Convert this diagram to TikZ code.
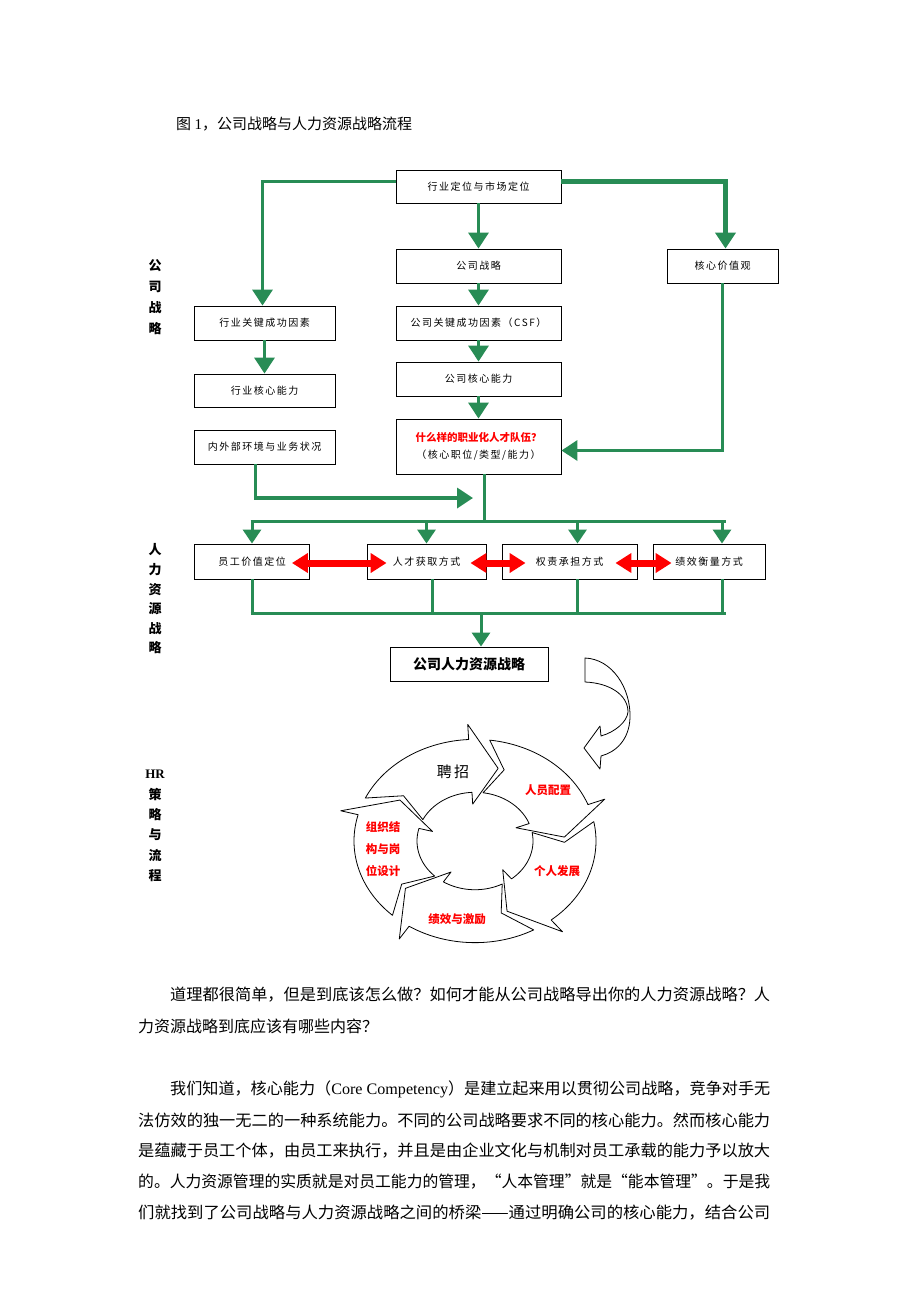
\documentclass[tikz,border=0pt]{standalone}
\usepackage{fontspec}
\usepackage{graphicx}
\setmainfont{Liberation Serif}
\newfontfamily\cjk{Noto Sans CJK SC}
\newfontfamily\cjkbox[LetterSpace=15]{Noto Sans CJK SC}
\usetikzlibrary{arrows.meta,calc}
\definecolor{hrgreen}{RGB}{40,140,85}
\definecolor{hrred}{RGB}{255,0,0}
\newcommand\boxfont{\cjkbox\fontsize{10}{12}\selectfont}
\newcommand\fitline[2]{\resizebox{#1}{\height}{#2}}
\begin{document}
\begin{tikzpicture}[x=1pt,y=-1pt,
  box/.style={draw=black, line width=0.9pt, fill=white, inner sep=0pt, font=\boxfont},
  gline/.style={draw=hrgreen, line width=3pt},
  garrow/.style={draw=hrgreen, line width=3.5pt, -{Triangle[length=16pt,width=20pt]}},
  gsmall/.style={draw=hrgreen, line width=3pt, -{Triangle[length=14pt,width=18pt]}},
  rarrow/.style={draw=hrred, line width=7pt, {Triangle[length=16pt,width=19pt]}-{Triangle[length=16pt,width=19pt]}},
  seclabel/.style={align=center, inner sep=0pt},
  cyc/.style={draw=black, line width=0.8pt, fill=white, line join=round},
  body/.style={anchor=west, inner sep=0pt, font=\cjk\fontsize{16}{16}\selectfont},
  cyclabel/.style={font=\cjk\bfseries\fontsize{11.5}{22}\selectfont, text=hrred, align=center, inner sep=0pt}
]
\useasboundingbox (0,0) rectangle (920,1302);
\fill[white] (0,0) rectangle (920,1302);

% title
\node[anchor=west, inner sep=0pt, font=\cjk\fontsize{15}{15}\selectfont] (title) at (176,124) {图 {\rmfamily 1}，公司战略与人力资源战略流程};

% section labels
\node[seclabel, font=\cjk\bfseries\fontsize{13}{21}\selectfont] (sec1) at (155,297) {公\\司\\战\\略};
\node[seclabel, font=\cjk\bfseries\fontsize{13}{19.6}\selectfont] (sec2) at (155,599) {人\\力\\资\\源\\战\\略};
\node[seclabel, font=\cjk\bfseries\fontsize{13}{20.4}\selectfont] (sec3) at (155,826) {{\rmfamily\bfseries HR}\\策\\略\\与\\流\\程};

% upper boxes
\node[box, minimum width=165pt, minimum height=33pt] (top) at (478.5,186.5) {行业定位与市场定位};
\node[box, minimum width=165pt, minimum height=34pt] (strat) at (478.5,266) {公司战略};
\node[box, minimum width=111pt, minimum height=34pt] (val) at (722.5,266) {核心价值观};
\node[box, minimum width=141pt, minimum height=34pt] (iksf) at (264.5,323) {行业关键成功因素};
\node[box, minimum width=165pt, minimum height=34pt] (csf) at (478.5,323) {公司关键成功因素（CSF）};
\node[box, minimum width=141pt, minimum height=33pt] (icc) at (264.5,390.5) {行业核心能力};
\node[box, minimum width=165pt, minimum height=34pt] (ccc) at (478.5,379) {公司核心能力};
\node[box, minimum width=141pt, minimum height=34pt] (env) at (264.5,447) {内外部环境与业务状况};
\node[box, minimum width=165pt, minimum height=55pt, align=center] (team) at (478.5,446.5)
  {\textcolor{hrred}{\cjk\bfseries\fontsize{10.5}{12}\selectfont 什么样的职业化人才队伍？}\\[5pt]（核心职位/类型/能力）};

% lower boxes
\node[box, minimum width=115pt, minimum height=35pt] (b1) at (252,561.5) {员工价值定位};
\node[box, minimum width=119pt, minimum height=35pt] (b2) at (426.5,561.5) {人才获取方式};
\node[box, minimum width=135pt, minimum height=35pt] (b3) at (569.5,561.5) {权责承担方式};
\node[box, minimum width=112pt, minimum height=35pt] (b4) at (709,561.5) {绩效衡量方式};
\node[box, minimum width=158pt, minimum height=34pt, font=\cjk\bfseries\fontsize{14}{16}\selectfont] (hr) at (469,664) {公司人力资源战略};

% green connectors (upper)
\draw[garrow, line join=miter] ([yshift=5pt]top.west) -| ([xshift=-2pt]iksf.north);
\draw[garrow, line width=5pt, line join=miter] ([yshift=5pt]top.east) -| ([xshift=3pt]val.north);
\draw[garrow] (top.south) -- (strat.north);
\draw[garrow] (strat.south) -- (csf.north);
\draw[garrow] (csf.south) -- (ccc.north);
\draw[garrow] (ccc.south) -- (team.north);
\draw[garrow] (iksf.south) -- (icc.north);
\draw[garrow, line join=miter] (val.south) |- ([yshift=-4pt]team.east);
\coordinate (envend) at (473,498);
\draw[garrow, line join=miter] ([xshift=-9pt]env.south) |- (envend);

% upper bus
\coordinate (busL) at (252,521);
\coordinate (busR) at (724,521);
\draw[gline] ([xshift=6pt]team.south) -- ([xshift=6pt]team.south |- busL);
\draw[gline] ([xshift=-1.5pt]busL) -- ([xshift=1.5pt]busR);
\draw[gsmall] (b1.north |- busL) -- (b1.north);
\draw[gsmall] (b2.north |- busL) -- (b2.north);
\draw[gsmall] ([xshift=8pt]b3.north |- busL) -- ([xshift=8pt]b3.north);
\draw[gsmall] ([xshift=13pt]b4.north |- busL) -- ([xshift=13pt]b4.north);

% lower bus
\coordinate (lbL) at (252,613);
\coordinate (lbR) at (726,613);
\draw[gline] (b1.south) -- (b1.south |- lbL);
\draw[gline] ([xshift=6pt]b2.south) -- ([xshift=6pt]b2.south |- lbL);
\draw[gline] ([xshift=8pt]b3.south) -- ([xshift=8pt]b3.south |- lbL);
\draw[gline] ([xshift=13pt]b4.south) -- ([xshift=13pt]b4.south |- lbL);
\draw[gline] ([xshift=-1.5pt]lbL) -- (lbR);
\draw[gsmall] ([xshift=12pt]hr.north |- lbL) -- ([xshift=12pt]hr.north);

% red double arrows
\draw[rarrow] ([xshift=-18pt,yshift=-1.5pt]b1.east) -- ([xshift=20pt,yshift=-1.5pt]b2.west);
\draw[rarrow] ([xshift=-16pt,yshift=-1.5pt]b2.east) -- ([xshift=24pt,yshift=-1.5pt]b3.west);
\draw[rarrow] ([xshift=-22pt,yshift=-1.5pt]b3.east) -- ([xshift=19pt,yshift=-1.5pt]b4.west);

% curved block arrow
\draw[cyc] (585,658) .. controls (612,659) and (631,688) .. (630,718)
  .. controls (629,740) and (616,752) .. (601,756) -- (600,769) -- (584,748) -- (600,726) -- (601,736)
  .. controls (615,732) and (627,722) .. (628,712)
  .. controls (628,695) and (610,683) .. (585,682) -- cycle;

% cycle
\begin{scope}[shift={(475,841)}, yscale=-0.84]
  \foreach \T in {75,3,-69,-141,-213}{
    \pgfmathsetmacro\A{\T+80}
    \pgfmathsetmacro\B{\T+18}
    \pgfmathsetmacro\C{\T+79}
    \pgfmathsetmacro\D{\T+68}
    \draw[cyc] (\A:121) -- plot[domain=\A:\B, samples=40] (\x:121) -- (\B:139) -- (\T:89.5) -- (\B:44) -- (\B:58)
      -- plot[domain=\B:\C, samples=40] (\x:58) -- (\D:89.5) -- cycle;
  }
\end{scope}
\node[font=\cjk\fontsize{15}{15}\selectfont, inner sep=0pt] (c1) at (453,772) {聘\,招};
\node[cyclabel] (c2) at (548,790) {人员配置};
\node[cyclabel] (c3) at (557,871) {个人发展};
\node[cyclabel] (c4) at (457,919) {绩效与激励};
\node[cyclabel] (c5) at (383,849) {组织结\\构与岗\\位设计};

% body text
\node[body] (p1a) at (170,995) {\fitline{600pt}{道理都很简单，但是到底该怎么做？如何才能从公司战略导出你的人力资源战略？人}};
\node[body] (p1b) at (138,1026) {力资源战略到底应该有哪些内容？};
\node[body] (p2a) at (170,1089) {\fitline{600pt}{我们知道，核心能力（{\rmfamily Core Competency}）是建立起来用以贯彻公司战略，竞争对手无}};
\node[body] (p2b) at (138,1120) {\fitline{632pt}{法仿效的独一无二的一种系统能力。不同的公司战略要求不同的核心能力。然而核心能力}};
\node[body] (p2c) at (138,1151) {\fitline{632pt}{是蕴藏于员工个体，由员工来执行，并且是由企业文化与机制对员工承载的能力予以放大}};
\node[body] (p2d) at (138,1182) {\fitline{632pt}{的。人力资源管理的实质就是对员工能力的管理，“人本管理”就是“能本管理”。于是我}};
\node[body] (p2e) at (138,1213) {\fitline{632pt}{们就找到了公司战略与人力资源战略之间的桥梁——通过明确公司的核心能力，结合公司}};
\end{tikzpicture}
\end{document}
